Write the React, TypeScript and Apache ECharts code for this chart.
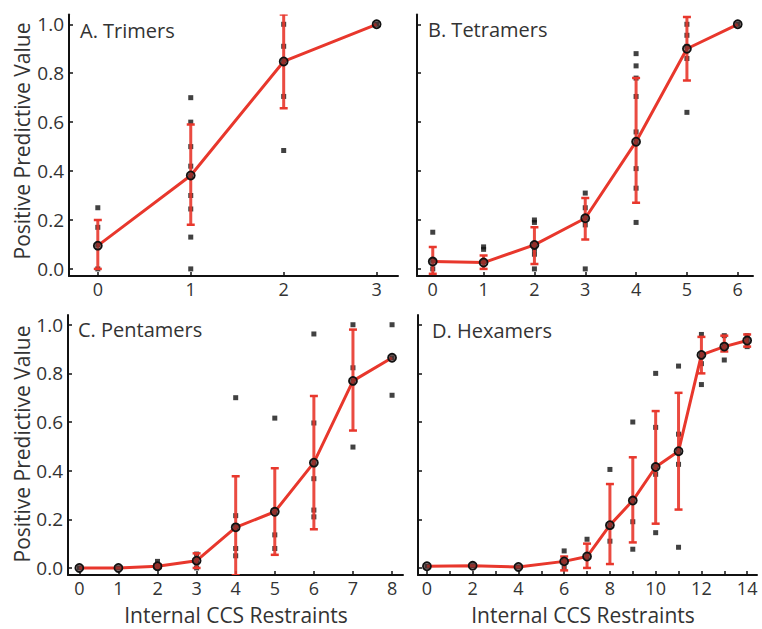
import React, { useEffect, useRef } from "react";
import * as echarts from "echarts";

// ---------- data ----------
const yTicks = [0, 0.2, 0.4, 0.6, 0.8, 1.0];

const A_x = [0, 1, 2, 3];
const A_mean = [0.095, 0.382, 0.848, 1.0];
const A_low = [0.0, 0.18, 0.657, null];
const A_high = [0.2, 0.59, 1.04, null];
const A_points = [
  [0.25, 0.17, 0.1, 0.0],
  [0.7, 0.6, 0.5, 0.42, 0.38, 0.3, 0.245, 0.13, 0.0],
  [1.0, 0.91, 0.85, 0.705, 0.484],
  [1.0],
];

const B_x = [0, 1, 2, 3, 4, 5, 6];
const B_mean = [0.03, 0.026, 0.098, 0.207, 0.52, 0.9, 1.0];
const B_low = [-0.02, 0.0, 0.02, 0.12, 0.27, 0.77, null];
const B_high = [0.09, 0.055, 0.17, 0.29, 0.78, 1.03, null];
const B_points = [
  [0.15, 0.035, 0.0],
  [0.09, 0.08, 0.03],
  [0.2, 0.19, 0.1, 0.08, 0.06, 0.0],
  [0.31, 0.25, 0.21, 0.18, 0.0],
  [0.88, 0.83, 0.78, 0.705, 0.56, 0.52, 0.41, 0.33, 0.19],
  [1.0, 0.955, 0.91, 0.86, 0.64],
  [1.0],
];

const C_x = [0, 1, 2, 3, 4, 5, 6, 7, 8];
const C_mean = [0.0, 0.0, 0.007, 0.03, 0.167, 0.231, 0.433, 0.769, 0.864];
const C_low = [null, null, 0.0, 0.0, -0.03, 0.054, 0.159, 0.565, null];
const C_high = [null, null, 0.015, 0.06, 0.377, 0.41, 0.707, 0.98, null];
const C_points = [
  [0.0],
  [0.0],
  [0.027, 0.0],
  [0.057, 0.03, 0.0],
  [0.7, 0.215, 0.167, 0.08, 0.05],
  [0.616, 0.231, 0.136, 0.08],
  [0.962, 0.596, 0.433, 0.367, 0.238, 0.21],
  [1.0, 0.823, 0.769, 0.497],
  [1.0, 0.864, 0.71],
];

const D_x = [0, 2, 4, 6, 7, 8, 9, 10, 11, 12, 13, 14];
const D_mean = [0.007, 0.009, 0.004, 0.027, 0.047, 0.176, 0.277, 0.415, 0.48, 0.876, 0.91, 0.935];
const D_low = [null, null, null, -0.01, 0.0, 0.016, 0.105, 0.182, 0.24, 0.8, 0.89, 0.91];
const D_high = [null, null, null, 0.047, 0.1, 0.345, 0.455, 0.645, 0.72, 0.95, 0.955, 0.96];
const D_points = [
  [0.007],
  [0.009],
  [0.004],
  [0.07, 0.027, 0.0],
  [0.118, 0.047],
  [0.405, 0.176, 0.11],
  [0.6, 0.277, 0.19, 0.077],
  [0.8, 0.578, 0.415, 0.385, 0.145],
  [0.83, 0.55, 0.48, 0.426, 0.085],
  [0.96, 0.876, 0.84, 0.754],
  [0.955, 0.91, 0.855],
  [0.955, 0.935, 0.91],
];

const A_xTicks = [0, 1, 2, 3];
const B_xTicks = [0, 1, 2, 3, 4, 5, 6];
const C_xTicks = [0, 1, 2, 3, 4, 5, 6, 7, 8];
const D_xTicks = [0, 1, 2, 3, 4, 5, 6, 7, 8, 9, 10, 11, 12, 13, 14];
const D_xLabels = [0, 2, 4, 6, 8, 10, 12, 14];

const titles = ["A. Trimers", "B. Tetramers", "C. Pentamers", "D. Hexamers"];
const yName = "Positive Predictive Value";
const xName = "Internal CCS Restraints";

// ---------- style ----------
const RED = "#e8372c";
const INK = "#111111";
const TEXT = "#333333";
const FONT = "'Open Sans', sans-serif";

const panels = [
  { xs: A_x, mean: A_mean, low: A_low, high: A_high, pts: A_points, ticks: A_xTicks, labels: A_xTicks,
    grid: { left: 69, top: 14.5, width: 329, height: 261.5 }, xmin: -0.31, xmax: 3.23, ylab: true },
  { xs: B_x, mean: B_mean, low: B_low, high: B_high, pts: B_points, ticks: B_xTicks, labels: B_xTicks,
    grid: { left: 417, top: 14.5, width: 336, height: 261.5 }, xmin: -0.31, xmax: 6.3, ylab: false },
  { xs: C_x, mean: C_mean, low: C_low, high: C_high, pts: C_points, ticks: C_xTicks, labels: C_xTicks,
    grid: { left: 68, top: 315, width: 335, height: 260 }, xmin: -0.29, xmax: 8.28, ylab: true },
  { xs: D_x, mean: D_mean, low: D_low, high: D_high, pts: D_points, ticks: D_xTicks, labels: D_xLabels,
    grid: { left: 418, top: 315, width: 339, height: 260 }, xmin: -0.39, xmax: 14.43, ylab: false },
];

export default function App() {
  const ref = useRef<HTMLDivElement>(null);
  useEffect(() => {
    if (!ref.current) return;
    const chart = echarts.init(ref.current, null, { renderer: "svg" });

    const grid: any[] = [];
    const xAxis: any[] = [];
    const yAxis: any[] = [];
    const series: any[] = [];

    panels.forEach((p, i) => {
      grid.push({ ...p.grid, containLabel: false });
      xAxis.push({
        type: "value", gridIndex: i, min: p.xmin, max: p.xmax,
        splitLine: { show: false },
        axisLine: { show: true, onZero: false, lineStyle: { color: INK, width: 2 } },
        axisTick: { show: true, inside: true, length: 4, customValues: p.ticks, lineStyle: { color: INK, width: 1.5 } },
        axisLabel: { show: true, customValues: p.labels, fontSize: 18, lineHeight: 18, fontFamily: FONT, color: TEXT, margin: 4 },
      });
      yAxis.push({
        type: "value", gridIndex: i, min: -0.029, max: 1.04,
        splitLine: { show: false },
        axisLine: { show: true, onZero: false, lineStyle: { color: INK, width: 2 } },
        axisTick: { show: true, inside: true, length: 4, customValues: yTicks, lineStyle: { color: INK, width: 1.5 } },
        axisLabel: {
          show: p.ylab, customValues: yTicks, fontSize: 19, fontFamily: FONT, color: TEXT, margin: 5,
          formatter: (v: number) => v.toFixed(1),
        },
      });

      const scatterData: number[][] = [];
      p.xs.forEach((x, k) => p.pts[k].forEach((v) => scatterData.push([x, v])));
      series.push({
        type: "scatter", xAxisIndex: i, yAxisIndex: i, data: scatterData,
        symbol: "rect", symbolSize: 5, itemStyle: { color: INK }, z: 2,
      });

      const errData: any[] = [];
      p.xs.forEach((x, k) => {
        if (p.low[k] != null && p.high[k] != null) errData.push([x, p.low[k], p.high[k]]);
      });
      series.push({
        type: "custom", xAxisIndex: i, yAxisIndex: i, data: errData, z: 3, clip: true,
        encode: { x: 0, y: [1, 2] },
        renderItem: (params: any, api: any) => {
          const x = api.value(0), lo = api.value(1), hi = api.value(2);
          const a = api.coord([x, lo]);
          const b = api.coord([x, hi]);
          const cw = 4;
          return {
            type: "group",
            children: [
              { type: "line", shape: { x1: a[0], y1: a[1], x2: b[0], y2: b[1] }, style: { stroke: RED, lineWidth: 3, opacity: 0.9 } },
              { type: "line", shape: { x1: a[0] - cw, y1: a[1], x2: a[0] + cw, y2: a[1] }, style: { stroke: RED, lineWidth: 2.5 } },
              { type: "line", shape: { x1: b[0] - cw, y1: b[1], x2: b[0] + cw, y2: b[1] }, style: { stroke: RED, lineWidth: 2.5 } },
            ],
          };
        },
      });

      series.push({
        type: "line", xAxisIndex: i, yAxisIndex: i,
        data: p.xs.map((x, k) => [x, p.mean[k]]),
        lineStyle: { color: RED, width: 3 },
        symbol: "circle", symbolSize: 8, showSymbol: true,
        itemStyle: { color: "rgba(70,40,40,0.5)", borderColor: INK, borderWidth: 1.8 },
        z: 4,
      });
    });

    const titlePos = [
      [80, 30], [428, 29.5], [78, 329], [432, 330],
    ];
    const graphic: any[] = titles.map((t, i) => ({
      type: "text", x: titlePos[i][0], y: titlePos[i][1], z: 10,
      style: { text: t, fontSize: 20, fontFamily: FONT, fill: TEXT, textAlign: "left", textVerticalAlign: "middle" },
    }));
    [141, 444].forEach((cy) =>
      graphic.push({
        type: "text", x: 22, y: cy, rotation: Math.PI / 2, z: 10,
        style: { text: yName, fontSize: 21, fontFamily: FONT, fill: TEXT, textAlign: "center", textVerticalAlign: "middle" },
      })
    );
    [236, 583].forEach((cx) =>
      graphic.push({
        type: "text", x: cx, y: 615, z: 10,
        style: { text: xName, fontSize: 21, lineHeight: 20, fontFamily: FONT, fill: TEXT, textAlign: "center", textVerticalAlign: "middle" },
      })
    );

    chart.setOption({
      animation: false,
      backgroundColor: "#ffffff",
      grid, xAxis, yAxis, series, graphic,
    });
    return () => chart.dispose();
  }, []);

  return (
    <div
      ref={ref}
      style={{ position: "absolute", left: 0, top: 0, width: 762, height: 629 }}
    />
  );
}
